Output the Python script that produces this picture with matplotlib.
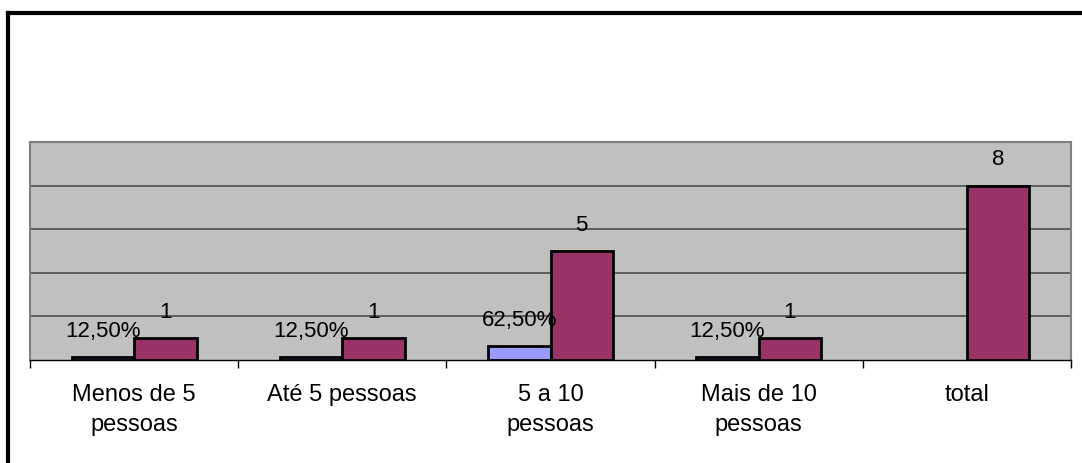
import numpy as np
import matplotlib.pyplot as plt
from matplotlib.lines import Line2D

categorias = ["Menos de 5\npessoas", "Até 5 pessoas", "5 a 10\npessoas", "Mais de 10\npessoas", "total"]
percentual = [0.125, 0.125, 0.625, 0.125]
rotulos_pct = ["12,50%", "12,50%", "62,50%", "12,50%"]
quantidade = [1, 1, 5, 1, 8]

plt.rcParams['font.family'] = ['Liberation Sans', 'DejaVu Sans']

fig = plt.figure(figsize=(10.82, 4.63), dpi=100)
ax = fig.add_axes([30/1082, 1 - 360/463, 1041/1082, 218/463])

x = np.arange(len(categorias))
w = 0.3
xp = x[:len(percentual)]
ax.bar(xp - w/2, percentual, w, color='#9999FF', edgecolor='black', linewidth=2, zorder=3)
ax.bar(x + w/2, quantidade, w, color='#993366', edgecolor='black', linewidth=2, zorder=3)

for i in range(len(xp)):
    ax.annotate(rotulos_pct[i], (xp[i] - w/2, percentual[i]), xytext=(0, 11),
                textcoords='offset points', ha='center', va='bottom', fontsize=16, zorder=5)
for i in range(len(x)):
    ax.annotate(str(quantidade[i]), (x[i] + w/2, quantidade[i]), xytext=(0, 11),
                textcoords='offset points', ha='center', va='bottom', fontsize=16, zorder=5)

ax.set_xlim(-0.5, 4.5)
ax.set_ylim(0, 10)
ax.set_facecolor('#C0C0C0')
ax.set_yticks([2, 4, 6, 8])
ax.yaxis.grid(True, color='#4d4d4d', linewidth=1.2, zorder=0)
ax.tick_params(axis='y', left=False, labelleft=False)
ax.set_xticks(x)
ax.set_xticklabels(categorias, fontsize=17, linespacing=1.5)
ax.tick_params(axis='x', length=0, pad=17)
ax.set_xticks(np.arange(-0.5, 5, 1), minor=True)
ax.tick_params(axis='x', which='minor', length=6, width=1, color='black')
for s in ['top', 'left', 'right']:
    ax.spines[s].set_color('#808080')
    ax.spines[s].set_linewidth(1.5)
ax.spines['bottom'].set_color('black')
ax.spines['bottom'].set_linewidth(1)

# moldura externa
fig.add_artist(Line2D([7.5/1082, 1], [1 - 12.5/463] * 2, color='black', linewidth=3, transform=fig.transFigure))
fig.add_artist(Line2D([7.5/1082] * 2, [0, 1 - 12.5/463], color='black', linewidth=3, transform=fig.transFigure))

fig.savefig('out.png', dpi=100)
